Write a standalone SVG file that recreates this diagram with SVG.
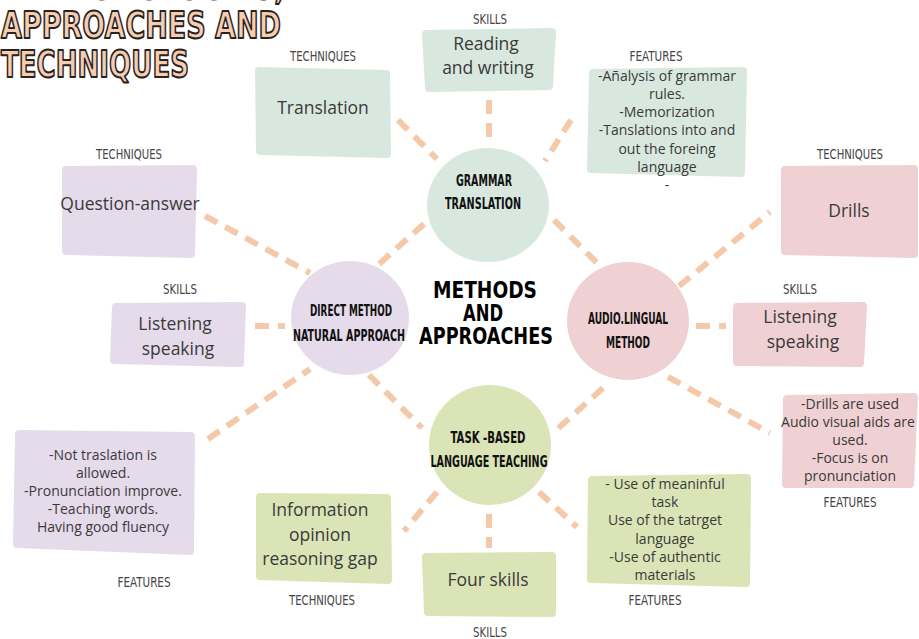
<svg xmlns="http://www.w3.org/2000/svg" width="919" height="639" viewBox="0 0 919 639">
<style>
.bg{fill:#ffffff}
.title{font-family:"DejaVu Sans","Liberation Sans",sans-serif;font-weight:bold;font-size:38px;fill:#f5cdb0;stroke:#2b211d;stroke-width:2;stroke-linejoin:round}
.conn line{stroke:#f3c9a9;stroke-width:6;stroke-dasharray:14 9;fill:none}
.gt{fill:#d9e8df}
.dm{fill:#e6dbeb}
.al{fill:#f0d1d3}
.tb{fill:#dbe4b6}
.box{stroke-width:8;stroke-linejoin:round}
.gt.box{stroke:#d9e8df}
.dm.box{stroke:#e6dbeb}
.al.box{stroke:#f0d1d3}
.tb.box{stroke:#dbe4b6}
.clabel{font-family:"DejaVu Sans Condensed","DejaVu Sans",sans-serif;font-weight:bold;font-size:16px;fill:#111;text-anchor:middle}
.center{font-family:"DejaVu Sans Condensed","DejaVu Sans",sans-serif;font-weight:bold;font-size:22.5px;fill:#000;text-anchor:middle}
.cat{font-family:"Liberation Sans Narrow","DejaVu Sans Condensed",sans-serif;font-size:14px;fill:#444;text-anchor:middle}
.big{font-family:"Open Sans","DejaVu Sans",sans-serif;font-size:17.5px;fill:#3a3a3a;text-anchor:middle}
.small{font-family:"Open Sans","DejaVu Sans",sans-serif;font-size:14px;fill:#3a3a3a;text-anchor:middle}
</style>
<rect class="bg" x="0" y="0" width="919" height="639"/>

<g id="title">
<text class="title" x="0" y="-1" textLength="285" lengthAdjust="spacingAndGlyphs">METHODOLOGIES,</text>
<text class="title" x="1" y="38" textLength="280" lengthAdjust="spacingAndGlyphs">APPROACHES AND</text>
<text class="title" x="1" y="77" textLength="188" lengthAdjust="spacingAndGlyphs">TECHNIQUES</text>
</g>

<g id="connectors" class="conn">
<line x1="489" y1="100" x2="489" y2="137"/>
<line x1="398" y1="120" x2="437" y2="159"/>
<line x1="571" y1="120" x2="545" y2="161"/>
<line x1="554" y1="220" x2="604" y2="270"/>
<line x1="424" y1="224" x2="378" y2="265"/>
<line x1="205" y1="216" x2="310" y2="273"/>
<line x1="255" y1="326" x2="285" y2="326"/>
<line x1="208" y1="439" x2="310" y2="369"/>
<line x1="369" y1="375" x2="422" y2="428"/>
<line x1="679" y1="286" x2="770" y2="212"/>
<line x1="696" y1="326" x2="726" y2="326"/>
<line x1="668" y1="377" x2="770" y2="433"/>
<line x1="603" y1="388" x2="553" y2="433"/>
<line x1="437" y1="492" x2="404" y2="531"/>
<line x1="489" y1="514" x2="489" y2="548"/>
<line x1="539" y1="492" x2="577" y2="527"/>
</g>

<g id="center">
<text class="center" x="485" y="298" textLength="104" lengthAdjust="spacingAndGlyphs">METHODS</text>
<text class="center" x="483" y="321" textLength="40" lengthAdjust="spacingAndGlyphs">AND</text>
<text class="center" x="486" y="344" textLength="134" lengthAdjust="spacingAndGlyphs">APPROACHES</text>
</g>

<g id="grammar-translation">
<ellipse class="gt" cx="488" cy="205" rx="61" ry="57"/>
<text class="clabel" x="484" y="186" textLength="56" lengthAdjust="spacingAndGlyphs">GRAMMAR</text>
<text class="clabel" x="483" y="209" textLength="76" lengthAdjust="spacingAndGlyphs">TRANSLATION</text>
</g>

<g id="direct-method">
<ellipse class="dm" cx="350" cy="318" rx="59" ry="57"/>
<text class="clabel" x="351" y="316" textLength="82" lengthAdjust="spacingAndGlyphs">DIRECT METHOD</text>
<text class="clabel" x="349" y="341" textLength="112" lengthAdjust="spacingAndGlyphs">NATURAL APPROACH</text>
</g>

<g id="audio-lingual">
<ellipse class="al" cx="628" cy="321" rx="61" ry="59"/>
<text class="clabel" x="628" y="324" textLength="80" lengthAdjust="spacingAndGlyphs">AUDIO.LINGUAL</text>
<text class="clabel" x="628" y="348" textLength="44" lengthAdjust="spacingAndGlyphs">METHOD</text>
</g>

<g id="task-based">
<ellipse class="tb" cx="490" cy="445" rx="61" ry="60"/>
<text class="clabel" x="488" y="443" textLength="75" lengthAdjust="spacingAndGlyphs">TASK -BASED</text>
<text class="clabel" x="489" y="467" textLength="117" lengthAdjust="spacingAndGlyphs">LANGUAGE TEACHING</text>
</g>

<g id="gt-skills">
<text class="cat" x="490" y="24" textLength="34" lengthAdjust="spacingAndGlyphs">SKILLS</text>
<polygon class="gt box" points="426,34 552,32 549,86 429,88"/>
<text class="big" x="486" y="50">Reading</text>
<text class="big" x="488" y="74">and writing</text>
</g>

<g id="gt-techniques">
<text class="cat" x="323" y="61" textLength="66" lengthAdjust="spacingAndGlyphs">TECHNIQUES</text>
<polygon class="gt box" points="259,71 386,74 387,154 260,151"/>
<text class="big" x="323" y="114">Translation</text>
</g>

<g id="gt-features">
<text class="cat" x="656" y="61" textLength="53" lengthAdjust="spacingAndGlyphs">FEATURES</text>
<polygon class="gt box" points="593,73 743,71 741,173 591,169"/>
<text class="small" x="667" y="81">-Añalysis of grammar</text>
<text class="small" x="667" y="99">rules.</text>
<text class="small" x="667" y="117">-Memorization</text>
<text class="small" x="667" y="135">-Tanslations into and</text>
<text class="small" x="667" y="154">out the foreing</text>
<text class="small" x="667" y="172">language</text>
<text class="small" x="667" y="190">-</text>
</g>

<g id="dm-techniques">
<text class="cat" x="129" y="159" textLength="66" lengthAdjust="spacingAndGlyphs">TECHNIQUES</text>
<polygon class="dm box" points="66,170 193,169 191,254 66,251"/>
<text class="big" x="130" y="210">Question-answer</text>
</g>

<g id="dm-skills">
<text class="cat" x="180" y="294" textLength="34" lengthAdjust="spacingAndGlyphs">SKILLS</text>
<polygon class="dm box" points="116,307 242,306 240,363 114,360"/>
<text class="big" x="175" y="330">Listening</text>
<text class="big" x="178" y="355">speaking</text>
</g>

<g id="dm-features">
<polygon class="dm box" points="19,434 191,436 190,551 17,544"/>
<text class="small" x="103" y="460">-Not traslation is</text>
<text class="small" x="103" y="478">allowed.</text>
<text class="small" x="103" y="496">-Pronunciation improve.</text>
<text class="small" x="103" y="514">-Teaching words.</text>
<text class="small" x="103" y="532">Having good fluency</text>
<text class="cat" x="144" y="587" textLength="53" lengthAdjust="spacingAndGlyphs">FEATURES</text>
</g>

<g id="al-techniques">
<text class="cat" x="850" y="159" textLength="66" lengthAdjust="spacingAndGlyphs">TECHNIQUES</text>
<polygon class="al box" points="785,170 914,169 914,254 785,251"/>
<text class="big" x="849" y="217">Drills</text>
</g>

<g id="al-skills">
<text class="cat" x="800" y="294" textLength="34" lengthAdjust="spacingAndGlyphs">SKILLS</text>
<polygon class="al box" points="737,307 863,306 860,363 737,362"/>
<text class="big" x="800" y="323">Listening</text>
<text class="big" x="803" y="348">speaking</text>
</g>

<g id="al-features">
<polygon class="al box" points="787,399 914,397 910,484 786,484"/>
<text class="small" x="850" y="409">-Drills are used</text>
<text class="small" x="848" y="427">Audio visual aids are</text>
<text class="small" x="850" y="445">used.</text>
<text class="small" x="850" y="463">-Focus is on</text>
<text class="small" x="850" y="481">pronunciation</text>
<text class="cat" x="850" y="507" textLength="53" lengthAdjust="spacingAndGlyphs">FEATURES</text>
</g>

<g id="tb-techniques">
<polygon class="tb box" points="260,497 387,498 388,580 260,576"/>
<text class="big" x="320" y="516">Information</text>
<text class="big" x="320" y="541">opinion</text>
<text class="big" x="320" y="565">reasoning gap</text>
<text class="cat" x="322" y="605" textLength="66" lengthAdjust="spacingAndGlyphs">TECHNIQUES</text>
</g>

<g id="tb-skills">
<polygon class="tb box" points="426,557 552,556 552,613 428,612"/>
<text class="big" x="488" y="586">Four skills</text>
<text class="cat" x="490" y="637" textLength="34" lengthAdjust="spacingAndGlyphs">SKILLS</text>
</g>

<g id="tb-features">
<polygon class="tb box" points="592,480 747,478 746,583 591,579"/>
<text class="small" x="665" y="489">- Use of meaninful</text>
<text class="small" x="665" y="507">task</text>
<text class="small" x="665" y="525">Use of the tatrget</text>
<text class="small" x="665" y="544">language</text>
<text class="small" x="665" y="562">-Use of authentic</text>
<text class="small" x="665" y="580">materials</text>
<text class="cat" x="655" y="605" textLength="53" lengthAdjust="spacingAndGlyphs">FEATURES</text>
</g>
</svg>
